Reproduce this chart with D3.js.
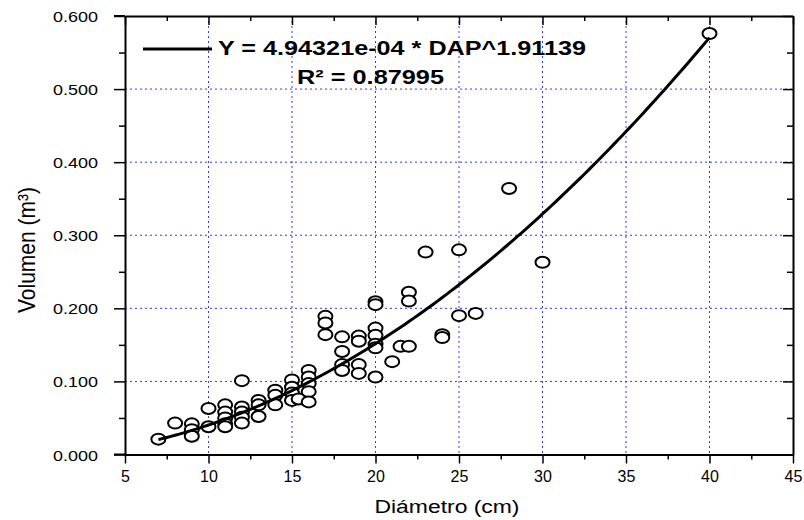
<!DOCTYPE html>
<html>
<head>
<meta charset="utf-8">
<script src="https://cdn.jsdelivr.net/npm/d3@7"></script>
<style>
  body { margin: 0; background: #fff; }
  text { font-family: "Liberation Sans", Arial, sans-serif; fill: #000; }
</style>
</head>
<body>
<div id="chart"></div>
<script>
// diámetro (cm) y volumen (m3)
const dap = [7, 8, 9, 9, 9, 10, 10, 11, 11, 11, 11, 11, 12, 12, 12, 12, 12,
  13, 13, 13, 14, 14, 14, 15, 15, 15, 15, 15.4, 16, 16, 16, 16, 16,
  17, 17, 17, 18, 18, 18, 18, 19, 19, 19, 19, 20, 20, 20, 20, 20, 20, 20,
  21, 21.5, 22, 22, 22, 23, 24, 24, 25, 25, 26, 28, 30, 40];
const volumen = [0.021, 0.043, 0.042, 0.034, 0.025, 0.063, 0.038, 0.068, 0.058, 0.050, 0.042, 0.038,
  0.101, 0.065, 0.058, 0.051, 0.043, 0.074, 0.068, 0.052, 0.088, 0.081, 0.068,
  0.102, 0.092, 0.084, 0.074, 0.076, 0.115, 0.106, 0.097, 0.086, 0.072,
  0.189, 0.180, 0.164, 0.161, 0.141, 0.123, 0.115, 0.162, 0.155, 0.123, 0.111,
  0.209, 0.205, 0.173, 0.163, 0.151, 0.146, 0.106,
  0.127, 0.148, 0.222, 0.210, 0.148, 0.277, 0.164, 0.160, 0.280, 0.190, 0.193, 0.364, 0.263, 0.576];

// ajuste potencial Y = a * DAP^b
const coefA = 4.94321e-4;
const coefB = 1.91139;
const fitRange = [7, 40];

const xTicks = [5, 10, 15, 20, 25, 30, 35, 40, 45];
const yTicks = [0, 0.1, 0.2, 0.3, 0.4, 0.5, 0.6];
const xMinor = [7.5, 12.5, 17.5, 22.5, 27.5, 32.5, 37.5, 42.5];
const yMinor = [0.05, 0.15, 0.25, 0.35, 0.45, 0.55];

const width = 804, height = 520;
const plotL = 125, plotR = 793, plotT = 16, plotB = 454.5;

const svg = d3.select("#chart").append("svg")
  .attr("width", width)
  .attr("height", height);

const x = d3.scaleLinear().domain([5, 45]).range([plotL, plotR]);
const y = d3.scaleLinear().domain([0, 0.6]).range([plotB, plotT]);

// grid
const grid = svg.append("g")
  .attr("stroke", "#3636ff")
  .attr("stroke-width", 1)
  .attr("stroke-dasharray", "2,3");
grid.selectAll("line.gx")
  .data(xTicks.slice(1, -1))
  .join("line")
  .attr("class", "gx")
  .attr("x1", d => x(d)).attr("x2", d => x(d))
  .attr("y1", plotT).attr("y2", plotB);
grid.selectAll("line.gy")
  .data(yTicks.slice(1, -1))
  .join("line")
  .attr("class", "gy")
  .attr("x1", plotL).attr("x2", plotR)
  .attr("y1", d => y(d)).attr("y2", d => y(d));

// puntos
svg.append("g")
  .selectAll("ellipse")
  .data(dap.map((d, i) => [d, volumen[i]]))
  .join("ellipse")
  .attr("cx", d => x(d[0]))
  .attr("cy", d => y(d[1]))
  .attr("rx", 7)
  .attr("ry", 5.5)
  .attr("fill", "#fff")
  .attr("stroke", "#000")
  .attr("stroke-width", 2);

// curva de ajuste
const curveX = d3.range(fitRange[0], fitRange[1] + 0.001, 0.25);
const line = d3.line()
  .x(d => x(d))
  .y(d => y(coefA * Math.pow(d, coefB)));
svg.append("path")
  .datum(curveX)
  .attr("d", line)
  .attr("fill", "none")
  .attr("stroke", "#000")
  .attr("stroke-width", 3);

// ejes
function styleAxis(g) {
  g.select(".domain").attr("stroke", "#000").attr("stroke-width", 2);
  g.selectAll(".tick line").attr("stroke", "#000").attr("stroke-width", 1.5);
}

svg.append("g")
  .attr("transform", `translate(${plotL},0)`)
  .call(d3.axisLeft(y).tickValues(yTicks).tickSize(11).tickSizeOuter(0).tickPadding(16)
    .tickFormat(d3.format(".3f")))
  .call(styleAxis)
  .call(g => g.selectAll("text")
    .attr("dy", null).attr("y", 5.5)
    .style("font-size", "15px")
    .attr("textLength", 45).attr("lengthAdjust", "spacingAndGlyphs"));

svg.append("g")
  .attr("transform", `translate(${plotL},0)`)
  .call(d3.axisLeft(y).tickValues(yMinor).tickSize(6).tickFormat(""))
  .call(styleAxis)
  .call(g => g.select(".domain").remove());

svg.append("g")
  .attr("transform", `translate(0,${plotB})`)
  .call(d3.axisBottom(x).tickValues(xTicks).tickSize(9).tickSizeOuter(0))
  .call(styleAxis)
  .call(g => g.selectAll("text")
    .attr("dy", null).attr("y", 27)
    .style("font-size", "16px"));

svg.append("g")
  .attr("transform", `translate(0,${plotB})`)
  .call(d3.axisBottom(x).tickValues(xMinor).tickSize(5).tickFormat(""))
  .call(styleAxis)
  .call(g => g.select(".domain").remove());

svg.append("g")
  .attr("transform", `translate(0,${plotT})`)
  .call(d3.axisBottom(x).tickValues(xTicks).tickSize(9).tickSizeOuter(0).tickFormat(""))
  .call(styleAxis);

svg.append("g")
  .attr("transform", `translate(0,${plotT})`)
  .call(d3.axisBottom(x).tickValues(xMinor).tickSize(5).tickFormat(""))
  .call(styleAxis)
  .call(g => g.select(".domain").remove());

svg.append("g")
  .attr("transform", `translate(${plotR},0)`)
  .call(d3.axisLeft(y).tickValues(yTicks).tickSize(10).tickSizeOuter(0).tickFormat(""))
  .call(styleAxis);

svg.append("g")
  .attr("transform", `translate(${plotR},0)`)
  .call(d3.axisLeft(y).tickValues(yMinor).tickSize(6).tickFormat(""))
  .call(styleAxis)
  .call(g => g.select(".domain").remove());

// extensiones de los ejes hacia afuera (marco)
svg.append("line")
  .attr("x1", plotL - 11).attr("x2", plotL)
  .attr("y1", plotT).attr("y2", plotT)
  .attr("stroke", "#000").attr("stroke-width", 2);
svg.append("line")
  .attr("x1", plotL - 11).attr("x2", plotL)
  .attr("y1", plotB).attr("y2", plotB)
  .attr("stroke", "#000").attr("stroke-width", 2);

// titulos
svg.append("text")
  .attr("x", 447).attr("y", 513)
  .attr("text-anchor", "middle")
  .style("font-size", "18px")
  .attr("textLength", 145).attr("lengthAdjust", "spacingAndGlyphs")
  .text("Diámetro (cm)");

svg.append("text")
  .attr("transform", "translate(35,250) rotate(-90)")
  .attr("text-anchor", "middle")
  .style("font-size", "24px")
  .attr("textLength", 126).attr("lengthAdjust", "spacingAndGlyphs")
  .text("Volumen (m³)");

// leyenda
svg.append("line")
  .attr("x1", 143).attr("x2", 212)
  .attr("y1", 49).attr("y2", 49)
  .attr("stroke", "#000").attr("stroke-width", 3);

svg.append("text")
  .attr("x", 218).attr("y", 55)
  .style("font-size", "20px").style("font-weight", "bold")
  .attr("textLength", 368).attr("lengthAdjust", "spacingAndGlyphs")
  .text("Y = 4.94321e-04 * DAP^1.91139");

svg.append("text")
  .attr("x", 297).attr("y", 84)
  .style("font-size", "20px").style("font-weight", "bold")
  .attr("textLength", 147).attr("lengthAdjust", "spacingAndGlyphs")
  .text("R² = 0.87995");
</script>
</body>
</html>
